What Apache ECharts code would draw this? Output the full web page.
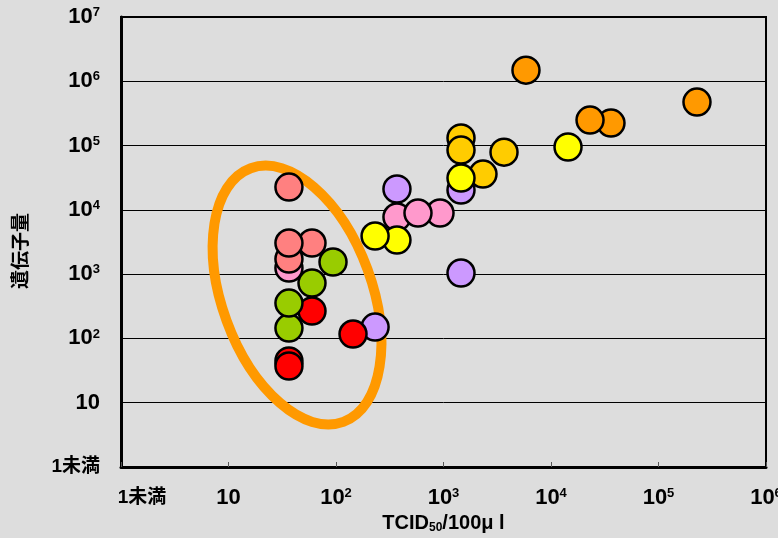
<!DOCTYPE html>
<html>
<head>
<meta charset="utf-8">
<script src="https://cdn.jsdelivr.net/npm/echarts@6/dist/echarts.min.js"></script>
<style>
  html, body { margin: 0; padding: 0; background: #dddddd; }
  #chart { width: 778px; height: 538px; }
</style>
</head>
<body>
<div id="chart"></div>
<script>
// tick labels, by decade (index = exponent)
const xTickLabels = ['1未満', '10', '10^2', '10^3', '10^4', '10^5', '10^6'];
const yTickLabels = ['1未満', '10', '10^2', '10^3', '10^4', '10^5', '10^6', '10^7'];

// [TCID50/100μl, 遺伝子量], drawing order back -> front
const lavender = [[369, 21100], [1455, 20300], [1455, 1040], [231, 150]];
const pink = [[36.5, 1244], [369, 7730], [928, 8920], [579, 8920]];
const salmon = [[59.8, 3046], [36.5, 1718], [36.5, 3046], [36.5, 22600]];
const red = [[59.8, 267], [144, 117], [36.5, 44.5], [36.5, 37.2]];
const green = [[36.5, 145], [36.5, 355], [93.8, 1543], [59.8, 727]];
const amber = [[1455, 131000], [1455, 85000], [3655, 79000], [2330, 36000]];
const yellow = [[14400, 95000], [369, 3390], [231, 3915], [1455, 31200]];
const orange = [[5850, 1490000], [228000, 475000], [36140, 224000], [23070, 249000]];

// centre of the circled group (data coords)
const ringCenter = [43.4, 473];

const FONT = "'Liberation Sans', 'Noto Sans CJK JP', sans-serif";
const NARROW = "'Liberation Sans Narrow', 'Liberation Sans', sans-serif";

let chart = echarts.init(document.getElementById('chart'));

function tickText(labels, value, first) {
  let i = Math.round(Math.log10(value));
  let t = labels[i];
  if (t === undefined) return '';
  if (t.indexOf('^') > 0) {
    let p = t.split('^');
    return '{b|' + p[0] + '}{sup|' + p[1] + '}';
  }
  if (/^[0-9]+$/.test(t)) return '{b|' + t + '}';
  return '{' + (first || 'cj') + '|' + t + '}';
}

const rich = {
  b: { fontSize: 22, fontWeight: 'bold', fontFamily: NARROW, color: '#000', lineHeight: 22 },
  sup: { fontSize: 13, fontWeight: 'bold', fontFamily: NARROW, color: '#000', verticalAlign: 'top', lineHeight: 13 },
  cj: { fontSize: 19, fontWeight: 'bold', fontFamily: FONT, color: '#000', lineHeight: 22 },
  lo: { fontSize: 19, fontWeight: 'bold', fontFamily: FONT, color: '#000', lineHeight: 22, padding: [0, 0, 0, 42] }
};

function dots(data, color) {
  return {
    type: 'scatter',
    data: data,
    symbol: 'circle',
    symbolSize: 27,
    itemStyle: { color: color, borderColor: '#000', borderWidth: 2.5, opacity: 1 },
    emphasis: { disabled: true },
    z: 3
  };
}

let option = {
  backgroundColor: '#dddddd',
  animation: false,
  grid: {
    left: 121, top: 17, right: 12, bottom: 71,
    outerBoundsMode: 'none',
    containLabel: false,
    show: true, backgroundColor: '#dddddd', borderColor: '#000', borderWidth: 2
  },
  xAxis: {
    type: 'log', logBase: 10, min: 1, max: 1e6,
    axisLine: { show: true, lineStyle: { color: '#000', width: 3 } },
    axisTick: { show: true, inside: true, length: 5, lineStyle: { color: '#555', width: 1 } },
    splitLine: { show: false },
    axisLabel: {
      margin: 20,
      formatter: function(v) { return tickText(xTickLabels, v, 'lo'); },
      rich: rich
    },
    name: 'TCID{sub|50}/100μ l',
    nameLocation: 'middle',
    nameGap: 45,
    nameTextStyle: {
      fontSize: 20, fontWeight: 'bold', fontFamily: NARROW, color: '#000',
      rich: {
        sub: { fontSize: 12, fontWeight: 'bold', fontFamily: NARROW, color: '#000', verticalAlign: 'bottom', lineHeight: 15 }
      }
    }
  },
  yAxis: {
    type: 'log', logBase: 10, min: 1, max: 1e7,
    axisLine: { show: true, lineStyle: { color: '#000', width: 3 } },
    axisTick: { show: false },
    splitLine: { show: true, lineStyle: { color: '#000', width: 1 } },
    axisLabel: {
      margin: 21,
      formatter: function(v) { return tickText(yTickLabels, v); },
      rich: rich
    },
    name: '遺伝子量',
    nameLocation: 'middle',
    nameGap: 90,
    nameRotate: 90,
    nameTextStyle: {
      fontSize: 19, fontWeight: 'bold', fontFamily: FONT, color: '#000',
      padding: [0, 18, 0, 0]
    }
  },
  series: [
    dots(lavender, '#CC99FF'),
    dots(pink, '#FF99CC'),
    dots(salmon, '#FF8080'),
    dots(red, '#FF0000'),
    dots(green, '#99CC00'),
    dots(amber, '#FFCC00'),
    dots(yellow, '#FFFF00'),
    dots(orange, '#FF9900')
  ]
};

chart.setOption(option);

// orange ring round the low-titre group
let c = chart.convertToPixel({ gridIndex: 0 }, ringCenter);
chart.setOption({
  graphic: [{
    type: 'ellipse',
    x: c[0], y: c[1],
    rotation: 0.35,
    z: 1,
    silent: true,
    shape: { cx: 0, cy: 0, rx: 75, ry: 135 },
    style: { fill: 'none', stroke: '#FF9900', lineWidth: 10 }
  }]
});
</script>
</body>
</html>
